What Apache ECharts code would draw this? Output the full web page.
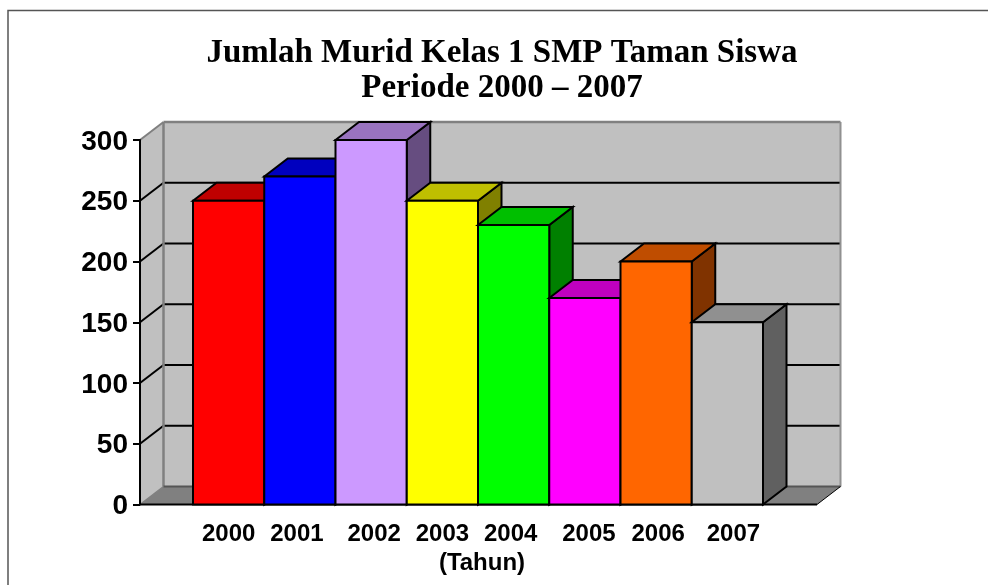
<!DOCTYPE html>
<html>
<head>
<meta charset="utf-8">
<style>
  html, body { margin: 0; padding: 0; background: #fff; }
  #chart { width: 988px; height: 585px; }
</style>
</head>
<body>
<div id="chart"></div>
<script src="https://cdn.jsdelivr.net/npm/echarts@6/dist/echarts.min.js"></script>
<script>
const years = ['2000', '2001', '2002', '2003', '2004', '2005', '2006', '2007']
const murid = [250, 270, 300, 250, 230, 170, 200, 150]
const barColors = ['#ff0000', '#0000ff', '#cc99ff', '#ffff00', '#00ff00', '#ff00ff', '#ff6600', '#c0c0c0']
const yTicks = [0, 50, 100, 150, 200, 250, 300]

// 3d look of the old excel chart
const depthX = 23.5
const depthY = 18
const wallPad = 53
// year labels do not sit exactly under their bars in the original
const labelNudge = [0, -3, 3, 0, -3, 4, 2, 6]

function shade(hex, k) {
  const n = parseInt(hex.slice(1), 16)
  const c = [n >> 16, (n >> 8) & 255, n & 255].map(v => Math.round(v * k))
  return 'rgb(' + c.join(',') + ')'
}

function poly(points, fill, stroke, width) {
  return {
    type: 'polygon',
    shape: { points: points },
    style: { fill: fill, stroke: stroke || 'none', lineWidth: width || 0 }
  }
}

function line(x1, y1, x2, y2, stroke, width) {
  return {
    type: 'line',
    shape: { x1: x1, y1: y1, x2: x2, y2: y2 },
    style: { stroke: stroke, lineWidth: width, fill: 'none' }
  }
}

function renderWall(params, api) {
  const cs = params.coordSys
  const left = cs.x - wallPad
  const right = cs.x + cs.width + wallPad + 1
  const y0 = api.coord([0, 0])[1]
  const yTop = api.coord([0, 300])[1]
  const backL = left + depthX
  const backR = right + depthX
  const kids = [
    poly([[backL, yTop - depthY], [backR, yTop - depthY], [backR, y0 - depthY], [backL, y0 - depthY]], '#c0c0c0'),
    poly([[left, yTop], [backL, yTop - depthY], [backL, y0 - depthY], [left, y0]], '#c0c0c0'),
    poly([[left, y0], [backL, y0 - depthY], [backR, y0 - depthY], [right, y0]], '#808080')
  ]
  yTicks.forEach(v => {
    if (v === 0 || v === 300) return
    const y = api.coord([0, v])[1]
    kids.push(line(left, y, backL, y - depthY, '#000', 2))
    kids.push(line(backL, y - depthY, backR, y - depthY, '#000', 2))
  })
  kids.push(line(left, yTop, backL, yTop - depthY, '#808080', 2))
  kids.push(line(backL, yTop - depthY, backR, yTop - depthY, '#808080', 2.5))
  kids.push(line(backL, yTop - depthY, backL, y0 - depthY, '#808080', 2.5))
  kids.push(line(backR, yTop - depthY, backR, y0 - depthY, '#909090', 2))
  kids.push(line(left, y0, backL, y0 - depthY, '#808080', 1.5))
  kids.push(line(backL, y0 - depthY, backR, y0 - depthY, '#555', 2))
  kids.push(line(right, y0, backR, y0 - depthY, '#000', 1))
  kids.push(line(left, y0, right, y0, '#000', 2))
  return { type: 'group', children: kids }
}

function renderBar(params, api) {
  const i = params.dataIndex
  const top = api.coord([i, api.value(1)])
  const base = api.coord([i, 0])
  const w = api.size([1, 0])[0]
  const x1 = top[0] - w / 2
  const x2 = top[0] + w / 2
  const color = barColors[i]
  return {
    type: 'group',
    children: [
      poly([[x2, top[1]], [x2 + depthX, top[1] - depthY], [x2 + depthX, base[1] - depthY], [x2, base[1]]], shade(color, 0.5), '#000', 2),
      poly([[x1, top[1]], [x1 + depthX, top[1] - depthY], [x2 + depthX, top[1] - depthY], [x2, top[1]]], shade(color, 0.75), '#000', 2),
      poly([[x1, top[1]], [x2, top[1]], [x2, base[1]], [x1, base[1]]], color, '#000', 2)
    ]
  }
}

// one rich style per year, padding on one side moves the centred label
const yearLabelStyles = {}
labelNudge.forEach((d, i) => {
  yearLabelStyles['y' + i] = {
    fontFamily: 'Liberation Sans',
    fontWeight: 'bold',
    fontSize: 24,
    color: '#000',
    padding: d > 0 ? [0, 0, 0, d * 2] : [0, -d * 2, 0, 0]
  }
})

const chart = echarts.init(document.getElementById('chart'))
chart.setOption({
  animation: false,
  backgroundColor: '#fff',
  title: {
    text: 'Jumlah Murid Kelas 1 SMP Taman Siswa\nPeriode 2000 – 2007',
    left: 497,
    top: 31,
    textAlign: 'center',
    textStyle: {
      fontFamily: 'Liberation Serif',
      fontWeight: 'bold',
      fontSize: 33,
      lineHeight: 35,
      color: '#000'
    }
  },
  graphic: [{
    type: 'polyline',
    silent: true,
    shape: { points: [[8, 585], [8, 10.5], [988, 10.5]] },
    style: { stroke: '#555', lineWidth: 1.5, fill: 'none' }
  }],
  grid: { left: 193, top: 140, width: 570, height: 364.5 },
  xAxis: {
    type: 'category',
    data: years,
    name: '(Tahun)',
    nameLocation: 'middle',
    nameGap: 46,
    nameTextStyle: {
      fontFamily: 'Liberation Sans',
      fontWeight: 'bold',
      fontSize: 24,
      color: '#000',
      padding: [0, 0, 0, 8]
    },
    axisLine: { show: false },
    axisTick: { show: false },
    axisLabel: {
      margin: 18,
      formatter: (v, i) => '{y' + i + '|' + v + '}',
      rich: yearLabelStyles
    }
  },
  yAxis: {
    type: 'value',
    min: 0,
    max: 300,
    interval: 50,
    offset: wallPad,
    z: 5,
    splitLine: { show: false },
    axisLine: { show: true, lineStyle: { color: '#000', width: 2 } },
    axisTick: { show: true, length: 7, lineStyle: { color: '#000', width: 2 } },
    axisLabel: {
      margin: 12,
      formatter: v => '{n|' + v + '}',
      rich: {
        n: {
          fontFamily: 'Liberation Sans',
          fontWeight: 'bold',
          fontSize: 28,
          color: '#000',
          padding: [4, 0, 0, 0]
        }
      }
    }
  },
  series: [
    {
      type: 'custom',
      name: 'dinding',
      renderItem: renderWall,
      clip: false,
      silent: true,
      z: 1,
      data: [[0, 0]],
      encode: { x: 0, y: 1 }
    },
    {
      type: 'custom',
      name: 'Jumlah Murid',
      renderItem: renderBar,
      clip: false,
      z: 2,
      data: murid.map((v, i) => [i, v]),
      encode: { x: 0, y: 1 }
    }
  ]
})
</script>
</body>
</html>
